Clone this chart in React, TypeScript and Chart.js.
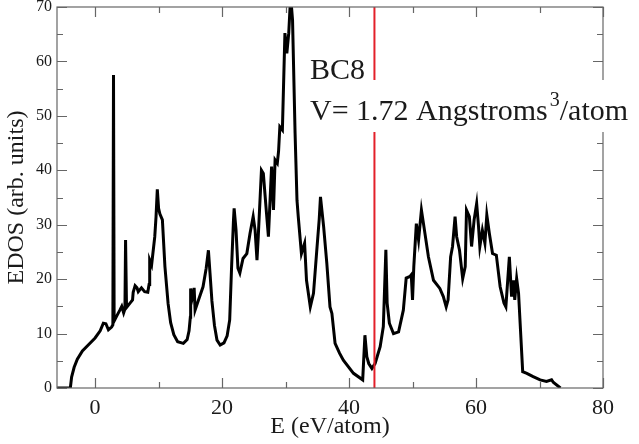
import React, { useEffect, useRef } from "react";
import { Chart, registerables } from "chart.js";

Chart.register(...registerables);

// EDOS curve: energy (eV/atom) and density of states (arb. units)
const energy: number[] = [
  -6, -3.9, -3.7, -3.3, -2.8, -2.0, -1.0, 0.0, 0.8, 1.3, 1.7, 2.1, 2.6, 2.8, 2.9, 3.0,
  3.4, 3.9, 4.2, 4.5, 4.7, 4.8, 4.95, 5.5, 5.9, 6.0, 6.3, 6.6, 6.8, 7.3, 7.8, 8.3,
  8.5, 8.6, 8.9, 9.4, 9.6, 9.8, 10.0, 10.2, 10.6, 11.0, 11.5, 11.9, 12.4, 13.0, 13.9, 14.5,
  14.8, 15.0, 15.05, 15.3, 15.5, 15.6, 15.75, 16.3, 17.0, 17.5, 17.85, 18.1, 18.4, 18.8, 19.2, 19.7,
  20.3, 20.8, 21.2, 21.5, 21.8, 21.9, 22.2, 22.5, 22.8, 23.3, 23.9, 24.4, 24.9, 25.2, 25.5, 25.7,
  26.2, 26.5, 27.0, 27.3, 27.8, 28.1, 28.35, 28.7, 28.9, 29.1, 29.5, 29.9, 30.2, 30.5, 30.8, 31.1,
  31.5, 31.8, 32.0, 32.5, 33.0, 33.3, 33.9, 34.4, 34.9, 35.3, 35.5, 36.0, 36.5, 37.0, 37.3, 37.8,
  38.5, 39.1, 40.7, 42.15, 42.5, 42.8, 43.1, 43.6, 44.1, 44.9, 45.4, 45.8, 46.0, 46.35, 47.0, 47.8,
  48.55, 49.0, 49.6, 49.8, 50.0, 50.2, 50.6, 50.95, 51.4, 51.8, 52.5, 53.3, 54.3, 54.85, 55.3, 55.6,
  56.0, 56.3, 56.7, 56.95, 57.4, 57.9, 58.3, 58.5, 58.95, 59.3, 59.7, 60.1, 60.4, 60.6, 61.0, 61.4,
  61.7, 62.1, 62.6, 63.2, 63.8, 64.4, 64.7, 65.25, 65.6, 65.9, 66.1, 66.4, 66.7, 67.35, 68.0, 69.0,
  70.1, 71.1, 71.9, 72.2, 73.3,
];
const edos: number[] = [
  0, 0, 2.0, 3.8, 5.3, 6.8, 8.0, 9.2, 10.5, 11.9, 11.8, 10.7, 11.2, 11.6, 57.5, 12.3,
  13.2, 14.3, 15.0, 13.8, 14.5, 27.2, 14.8, 15.6, 16.2, 17.6, 18.8, 18.4, 17.7, 18.4, 17.7, 17.6,
  19.0, 23.5, 22.6, 27.8, 31.5, 36.5, 33.0, 32.0, 30.9, 22.3, 15.5, 12.0, 9.8, 8.5, 8.2, 8.9,
  10.5, 13.0, 18.3, 16.5, 17.5, 18.4, 14.3, 16.2, 18.6, 22.0, 25.3, 21.1, 16.0, 11.5, 8.8, 7.9,
  8.3, 9.6, 12.5, 22.3, 30.9, 33.0, 29.0, 22.0, 21.1, 23.8, 24.7, 28.4, 31.5, 29.0, 23.5, 27.8,
  40.0, 39.4, 32.1, 27.8, 40.7, 32.7, 41.9, 41.3, 43.5, 48.0, 47.4, 65.2, 61.5, 65.2, 72.0, 67.6,
  46.8, 34.5, 31.5, 24.7, 26.6, 19.8, 14.9, 17.4, 25.0, 31.0, 35.1, 29.6, 22.9, 14.9, 13.7, 8.2,
  6.4, 5.1, 2.7, 1.5, 9.7, 5.75, 4.5, 3.6, 4.5, 7.6, 11.3, 25.4, 15.6, 11.9, 10.0, 10.3,
  14.3, 20.2, 20.5, 20.8, 16.2, 22.3, 30.2, 27.2, 32.7, 29.6, 24.1, 19.8, 18.3, 16.8, 14.9, 16.2,
  24.1, 26.0, 31.5, 27.8, 25.3, 20.1, 22.3, 32.7, 31.5, 26.0, 30.9, 33.9, 29.6, 26.0, 29.0, 26.6,
  31.8, 28.4, 24.7, 24.4, 18.6, 15.6, 14.9, 24.1, 16.8, 19.8, 16.2, 20.1, 17.4, 3.0, 2.7, 2.1,
  1.5, 1.2, 1.5, 1.0, 0,
];

// Fermi level marker
const fermiEnergy = 44;
const yRange: number[] = [0, 70];

const xTicks: number[] = [0, 20, 40, 60, 80];
const xMinorTicks: number[] = [10, 30, 50, 70];
const yTicks: number[] = [0, 10, 20, 30, 40, 50, 60, 70];
const yMinorTicks: number[] = [5, 15, 25, 35, 45, 55, 65];

const labelStructure = "BC8";
const labelVolumeMain = "V= 1.72 Angstroms";
const labelVolumeSup = "3";
const labelVolumeTail = "/atom";

const SERIF = "'Liberation Serif', 'DejaVu Serif', serif";

const framePlugin = {
  id: "framePlugin",
  afterDraw(chart: any) {
    const { ctx, chartArea } = chart;
    const xs = chart.scales.x;
    const ys = chart.scales.y;
    const { left, right, top, bottom } = chartArea;
    ctx.save();
    ctx.strokeStyle = "#666666";
    ctx.lineWidth = 1.2;
    ctx.strokeRect(left, top, right - left, bottom - top);
    const major = 10;
    const minor = 6;
    ctx.beginPath();
    const xt = (v: number, len: number) => {
      const p = Math.round(xs.getPixelForValue(v)) + 0.5;
      ctx.moveTo(p, bottom);
      ctx.lineTo(p, bottom - len);
      ctx.moveTo(p, top);
      ctx.lineTo(p, top + len);
    };
    const yt = (v: number, len: number) => {
      const p = Math.round(ys.getPixelForValue(v)) + 0.5;
      ctx.moveTo(left, p);
      ctx.lineTo(left + len, p);
      ctx.moveTo(right, p);
      ctx.lineTo(right - len, p);
    };
    xTicks.forEach((v) => xt(v, major));
    xMinorTicks.forEach((v) => xt(v, minor));
    yTicks.forEach((v) => yt(v, major));
    yMinorTicks.forEach((v) => yt(v, minor));
    ctx.stroke();

    // white label box
    ctx.fillStyle = "#ffffff";
    ctx.fillRect(304, 80, chart.width - 304, 52);

    ctx.fillStyle = "#1a1a1a";
    ctx.textBaseline = "alphabetic";
    ctx.textAlign = "left";
    ctx.font = `30px ${SERIF}`;
    ctx.fillText(labelStructure, 310, 79);
    const x0 = 310;
    ctx.fillText(labelVolumeMain, x0, 120);
    const w1 = ctx.measureText(labelVolumeMain).width;
    ctx.font = `20px ${SERIF}`;
    ctx.fillText(labelVolumeSup, x0 + w1 + 2, 106);
    const w2 = ctx.measureText(labelVolumeSup).width;
    ctx.font = `30px ${SERIF}`;
    ctx.fillText(labelVolumeTail, x0 + w1 + w2 + 2, 120);
    ctx.restore();
  },
};

export default function App() {
  const canvasRef = useRef<HTMLCanvasElement | null>(null);

  useEffect(() => {
    document.body.style.margin = "0";
    const canvas = canvasRef.current;
    if (!canvas) return;
    const curve = energy.map((x, i) => ({ x, y: edos[i] }));
    const fermi = yRange.map((y) => ({ x: fermiEnergy, y }));

    const chart = new Chart(canvas, {
      type: "scatter",
      data: {
        datasets: [
          {
            data: fermi,
            showLine: true,
            borderColor: "#e3202a",
            borderWidth: 2,
            pointRadius: 0,
            order: 0,
          },
          {
            data: curve,
            showLine: true,
            borderColor: "#000000",
            borderWidth: 3,
            pointRadius: 0,
            tension: 0,
            order: 1,
          },
        ],
      },
      options: {
        responsive: false,
        animation: false,
        events: [],
        layout: { padding: { top: 7, right: 36, left: 0, bottom: 0 } },
        plugins: {
          legend: { display: false },
          tooltip: { enabled: false },
        },
        scales: {
          x: {
            type: "linear",
            min: -6,
            max: 80,
            grid: { display: false, drawTicks: false },
            border: { display: false },
            afterBuildTicks: (scale: any) => {
              scale.ticks = xTicks.map((value) => ({ value }));
            },
            afterFit: (scale: any) => {
              scale.height = 56;
              scale.paddingLeft = 0;
              scale.paddingRight = 0;
            },
            ticks: {
              padding: 7,
              color: "#1a1a1a",
              font: { family: SERIF, size: 22 },
              maxRotation: 0,
            },
            title: {
              display: true,
              text: "E (eV/atom)",
              color: "#1a1a1a",
              font: { family: SERIF, size: 24 },
              padding: { top: 0, bottom: 3 },
            },
          },
          y: {
            type: "linear",
            min: 0,
            max: 70,
            grid: { display: false, drawTicks: false },
            border: { display: false },
            afterBuildTicks: (scale: any) => {
              scale.ticks = yTicks.map((value) => ({ value }));
            },
            afterFit: (scale: any) => {
              scale.width = 57;
              scale.paddingTop = 0;
              scale.paddingBottom = 0;
            },
            ticks: {
              padding: 5,
              color: "#1a1a1a",
              font: { family: SERIF, size: 16 },
            },
            title: {
              display: true,
              text: "EDOS (arb. units)",
              color: "#1a1a1a",
              font: { family: SERIF, size: 24 },
              padding: { top: 2, bottom: 0 },
            },
          },
        },
      },
      plugins: [framePlugin],
    });
    return () => chart.destroy();
  }, []);

  return (
    <div style={{ width: 639, height: 444 }}>
      <canvas ref={canvasRef} width={639} height={444} style={{ display: "block" }} />
    </div>
  );
}
